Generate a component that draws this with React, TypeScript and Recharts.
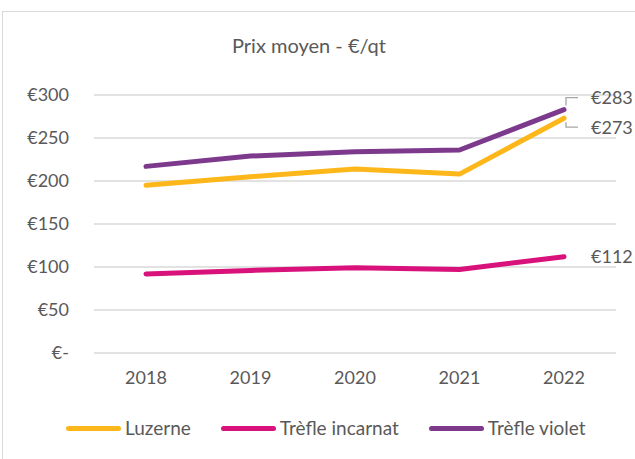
import { LineChart, Line, XAxis, YAxis, CartesianGrid } from 'recharts'

const years = ['2018', '2019', '2020', '2021', '2022']
const luzerne = [195, 205, 214, 208, 273]
const incarnat = [92, 96, 99, 97, 112]
const violet = [217, 229, 234, 236, 283]
const yTicks = [0, 50, 100, 150, 200, 250, 300]

const FONT = 'Lato, "Open Sans", sans-serif'
const TXT = '#595959'

const series = [
  { key: 'luzerne', name: 'Luzerne', color: '#FDB71A', values: luzerne, labelDy: 9 },
  { key: 'incarnat', name: 'Trèfle incarnat', color: '#D8117B', values: incarnat, labelDy: 0 },
  { key: 'violet', name: 'Trèfle violet', color: '#7D3A8D', values: violet, labelDy: -12 },
]

const data = years.map((y, i) => ({
  year: y,
  luzerne: luzerne[i],
  incarnat: incarnat[i],
  violet: violet[i],
}))

const fmtTick = (v: number) => (v === 0 ? '€-' : `€${v}`)

// end-of-line value label, with a small leader when it is pushed up or down
function endLabel(dy: number) {
  // eslint-disable-next-line @typescript-eslint/no-explicit-any
  return (props: any) => {
    const { x, y, index, value } = props
    if (index !== years.length - 1) return null
    const ly = y + dy
    return (
      <g>
        {dy !== 0 && (
          <path
            d={`M${x + 2},${y + (dy > 0 ? 4 : -4)} L${x + 2},${ly} L${x + 14},${ly}`}
            fill="none"
            stroke="#a6a6a6"
            strokeWidth={1.3}
          />
        )}
        <text x={x + 27} y={ly} dy="0.36em" fill={TXT} fontSize={18} fontFamily={FONT}>
          €{value}
        </text>
      </g>
    )
  }
}

export default function App() {
  return (
    <div
      style={{
        position: 'fixed',
        left: 0,
        top: 0,
        width: 635,
        height: 459,
        overflow: 'hidden',
        background: '#fff',
        fontFamily: FONT,
      }}
    >
      <div
        style={{
          position: 'absolute',
          left: 2,
          top: 11,
          width: 700,
          height: 520,
          border: '1px solid #d9d9d9',
        }}
      />
      <div
        style={{
          position: 'absolute',
          left: 0,
          top: 33,
          width: 618,
          textAlign: 'center',
          fontSize: 20,
          color: TXT,
          lineHeight: '24px',
        }}
      >
        Prix moyen - €/qt
      </div>
      <div style={{ position: 'absolute', left: 0, top: 0 }}>
        <LineChart
          width={635}
          height={459}
          data={data}
          margin={{ top: 95, right: 19, bottom: 76, left: 0 }}
        >
          <CartesianGrid vertical={false} stroke="#d9d9d9" strokeWidth={1.3} />
          <XAxis
            dataKey="year"
            axisLine={false}
            tickLine={false}
            tickSize={0}
            tickMargin={18}
            padding={{ left: 52, right: 52 }}
            tick={{ fill: TXT, fontSize: 18, fontFamily: FONT }}
          />
          <YAxis
            width={94}
            domain={[0, 300]}
            ticks={yTicks}
            axisLine={false}
            tickLine={false}
            tickSize={0}
            tickMargin={25}
            tickFormatter={fmtTick}
            tick={{ fill: TXT, fontSize: 18, fontFamily: FONT }}
          />
          {series.map((s) => (
            <Line
              key={s.key}
              dataKey={s.key}
              stroke={s.color}
              strokeWidth={5}
              strokeLinecap="round"
              strokeLinejoin="round"
              dot={false}
              activeDot={false}
              isAnimationActive={false}
              label={endLabel(s.labelDy)}
            />
          ))}
        </LineChart>
      </div>
      <div
        style={{
          position: 'absolute',
          left: 66,
          top: 416,
          display: 'flex',
          gap: 30,
          fontSize: 19,
          color: TXT,
          lineHeight: '24px',
        }}
      >
        {series.map((s) => (
          <div key={s.key} style={{ display: 'flex', alignItems: 'center', gap: 4 }}>
            <span
              style={{ width: 55, height: 5, borderRadius: 3, background: s.color }}
            />
            <span>{s.name}</span>
          </div>
        ))}
      </div>
    </div>
  )
}
